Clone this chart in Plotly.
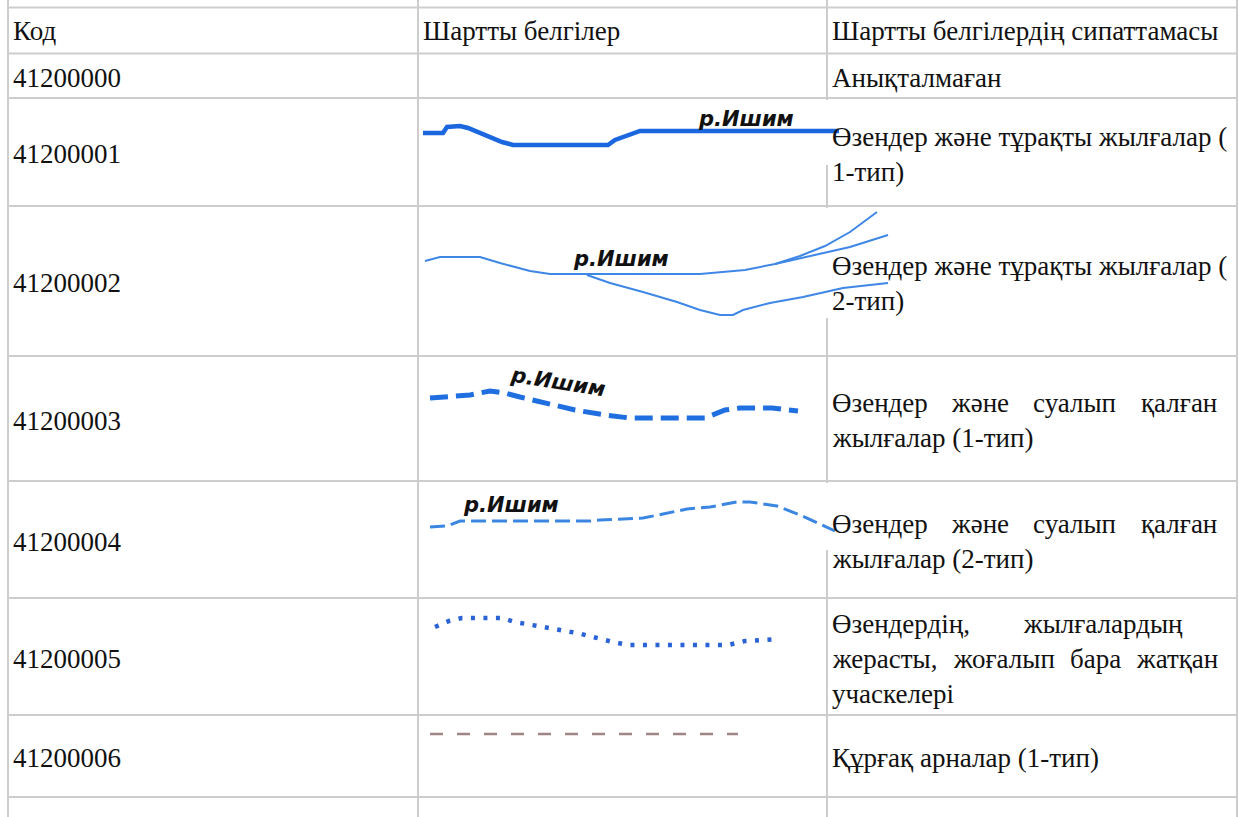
import plotly.graph_objects as go

W, H = 1239, 817

# ---- table structure (pixel units) ----
col_edges = [8, 418, 827, 1237]
row_edges = [7.5, 53.5, 98, 206, 356, 481, 598, 715, 797]
text_pad = 2.5
line_gap = 35

header = ["Код", "Шартты белгілер", "Шартты белгілердің сипаттамасы"]
codes = ["41200000", "41200001", "41200002", "41200003", "41200004", "41200005", "41200006"]

# description lines per row; a list of words = justified line
desc_lines = [
    ["Анықталмаған"],
    ["Өзендер жəне тұрақты жылғалар (", "1-тип)"],
    ["Өзендер жəне тұрақты жылғалар (", "2-тип)"],
    [["Өзендер", "жəне", "суалып", "қалған"], "жылғалар (1-тип)"],
    [["Өзендер", "жəне", "суалып", "қалған"], "жылғалар (2-тип)"],
    [["Өзендердің,", "жылғалардың"], ["жерасты,", "жоғалып", "бара", "жатқан"], "учаскелері"],
    ["Құрғақ арналар (1-тип)"],
]
# word start positions for justified lines
justify_x = {
    ("Өзендер", "жəне", "суалып", "қалған"): [830, 949, 1031, 1139],
    ("Өзендердің,", "жылғалардың"): [830, 1021],
    ("жерасты,", "жоғалып", "бара", "жатқан"): [830, 951, 1068, 1134],
}

# ---- legend symbols (polylines) ----
sym1_x = [423, 443, 447, 460, 468, 480, 492, 502, 513, 608, 615, 627, 640, 839]
sym1_y = [133, 133, 127, 126, 128, 133, 137, 142, 145, 145, 140, 136, 131, 131]

sym2_main_x = [425, 440, 480, 500, 530, 550, 700, 745, 775, 800, 825, 850, 877]
sym2_main_y = [261, 257, 257, 263, 271, 274, 274, 270, 264, 256, 246, 232, 212]
sym2_mid_x = [775, 810, 850, 888]
sym2_mid_y = [264, 256, 247, 235]
sym2_low_x = [587, 610, 643, 677, 700, 720, 733, 743, 770, 803, 843, 888]
sym2_low_y = [275, 283, 292, 302, 310, 315, 315, 310, 303, 297, 288, 283]

sym3_x = [430, 470, 490, 505, 520, 548, 575, 605, 630, 705, 715, 725, 740, 772, 798]
sym3_y = [398, 395, 391, 393, 397, 403, 410, 415, 418, 418, 414, 410, 408, 408, 411]

sym4_x = [430, 447, 460, 590, 600, 643, 663, 687, 710, 737, 750, 777, 800, 823, 835]
sym4_y = [527, 526, 521, 521, 520, 518, 514, 509, 507, 502, 502, 506, 515, 525, 531]

sym5_x = [435, 449, 462, 502, 515, 540, 577, 613, 628, 728, 745, 778]
sym5_y = [627, 621, 618, 618, 622, 626, 633, 642, 645, 645, 641, 639]

sym6_x = [430, 738]
sym6_y = [734, 734]

river_label = "р.Ишим"
label_pos = [(746, 119, 0), (621, 259, 0), (558, 382, 9), (511, 505, 0)]

# white image backgrounds that cover the grid lines
image_boxes = [(420, 100, 840, 165), (420, 208, 892, 318), (420, 483, 848, 550)]

fig = go.Figure()

def add_line(xs, ys, color, width, dash="solid"):
    fig.add_trace(go.Scatter(x=xs, y=ys, mode="lines",
                             line=dict(color=color, width=width, dash=dash),
                             hoverinfo="skip", showlegend=False))

add_line(sym1_x, sym1_y, "#1b67df", 4.5)
add_line(sym2_main_x, sym2_main_y, "#3f87e6", 2)
add_line(sym2_mid_x, sym2_mid_y, "#3f87e6", 2)
add_line(sym2_low_x, sym2_low_y, "#3f87e6", 2)
add_line(sym3_x, sym3_y, "#1f6fe0", 5, "18px,8px")
add_line(sym4_x, sym4_y, "#3a86e2", 3, "15px,6px")
add_line(sym5_x, sym5_y, "#2a63d6", 4.5, "4px,8.5px")
add_line(sym6_x, sym6_y, "#a08585", 2.5, "13px,14px")

shapes = []
grid = dict(color="#cdcdcd", width=2)
for x in col_edges:
    shapes.append(dict(type="line", xref="x", yref="y", x0=x, x1=x, y0=0, y1=H,
                       line=grid, layer="below"))
for y in row_edges:
    shapes.append(dict(type="line", xref="x", yref="y", x0=col_edges[0], x1=col_edges[-1],
                       y0=y, y1=y, line=grid, layer="below"))
for (x0, y0, x1, y1) in image_boxes:
    shapes.append(dict(type="rect", xref="x", yref="y", x0=x0, x1=x1, y0=y0, y1=y1,
                       fillcolor="white", line=dict(width=0), layer="below"))

annotations = []
body_font = dict(family="'Liberation Serif', 'Times New Roman', serif", size=27,
                 color="#111111")

def txt(x, y, s, anchor="left"):
    annotations.append(dict(x=x, y=y, xref="x", yref="y", text=s, showarrow=False,
                            xanchor=anchor, yanchor="middle", font=body_font))

# header row
hc = (row_edges[0] + row_edges[1]) / 2
for i, h in enumerate(header):
    txt(col_edges[i] + text_pad, hc, h)

# body rows
for r, code in enumerate(codes):
    top, bot = row_edges[r + 1], row_edges[r + 2]
    c = (top + bot) / 2 + 2
    txt(col_edges[0] + text_pad, c, code)
    lines = desc_lines[r]
    n = len(lines)
    for k, ln in enumerate(lines):
        y = c + (k - (n - 1) / 2) * line_gap
        if isinstance(ln, list):
            xs = justify_x[tuple(ln)]
            for wx, word in zip(xs, ln):
                txt(wx, y, word)
        else:
            txt(col_edges[2] + text_pad, y, ln)

for (lx, ly, ang) in label_pos:
    annotations.append(dict(x=lx, y=ly, xref="x", yref="y", text=river_label,
                            showarrow=False, xanchor="center", yanchor="middle",
                            textangle=ang,
                            font=dict(family="DejaVu Sans", size=21, color="#111111",
                                      weight="bold", style="italic")))

fig.update_layout(
    width=W, height=H,
    margin=dict(l=0, r=0, t=0, b=0),
    paper_bgcolor="white", plot_bgcolor="white",
    xaxis=dict(range=[0, W], visible=False, fixedrange=True),
    yaxis=dict(range=[H, 0], visible=False, fixedrange=True),
    shapes=shapes, annotations=annotations,
)

fig.write_html("out.html",
               config={"displayModeBar": False},
               post_script="document.body.style.margin='0';document.body.style.overflow='hidden';")
